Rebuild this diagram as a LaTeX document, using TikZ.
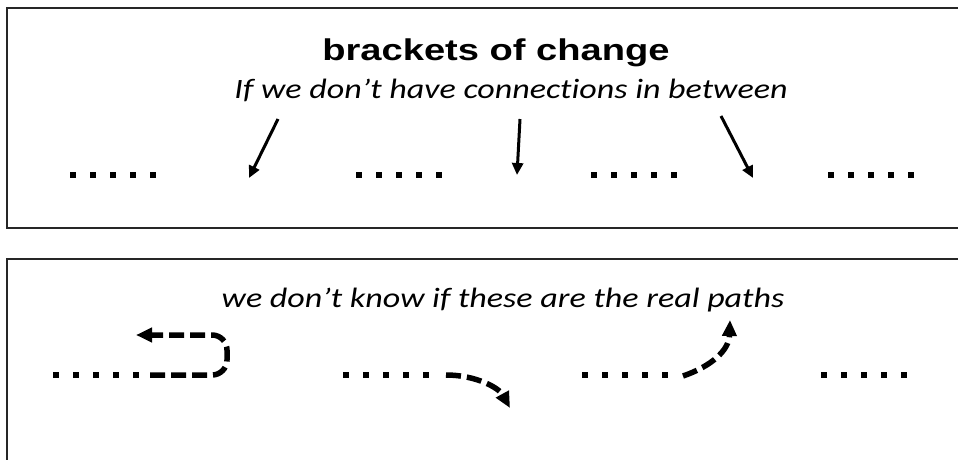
\documentclass[tikz,border=0pt]{standalone}
\usepackage{fontspec}
\setmainfont{Liberation Sans}
\newfontfamily\calib[Ligatures=NoCommon]{Carlito}
\usetikzlibrary{arrows.meta}
\begin{document}
\begin{tikzpicture}[x=1pt,y=-1pt,
  frame/.style={draw=black!85, line width=2.2pt},
  dotrow/.style={line width=6pt, dash pattern=on 6pt off 14pt},
  pointer/.style={line width=3pt, -{Triangle[length=12pt,width=11pt]}},
  guess/.style={line width=5.5pt, dash pattern=on 15pt off 6pt, -{Triangle[length=16pt,width=14pt]}},
  titletext/.style={font=\fontsize{30}{30}\selectfont\bfseries, anchor=base, inner sep=0pt},
  notetext/.style={font=\fontsize{28}{28}\selectfont\calib\itshape, anchor=base, inner sep=0pt}]
\useasboundingbox (0,0) rectangle (958,460);
\fill[white] (0,0) rectangle (958,460);
% frames
\draw[frame] (958,8) -- (7,8) -- (7,228) -- (958,228);
\draw[frame] (958,259) -- (7,259) -- (7,460);
% texts
\node[titletext] (title) at (496,61) {\scalebox{1.27}[1]{brackets of change}};
\node[notetext] (note1) at (511,98) {\scalebox{1.215}[1]{If we don’t have connections in between}};
\node[notetext] (note2) at (503,307) {\scalebox{1.215}[1]{we don’t know if these are the real paths}};
% top dot rows
\coordinate (a1) at (70,174.5);
\coordinate (a2) at (356,174.5);
\coordinate (a3) at (591,174.5);
\coordinate (a4) at (828,174.5);
\foreach \c in {a1,a2,a3,a4} \draw[dotrow] (\c) -- ++(86,0);
% top pointers
\coordinate (p1s) at (278,119); \coordinate (p1e) at (249,178);
\coordinate (p2s) at (520,119); \coordinate (p2e) at (517,175);
\coordinate (p3s) at (721,116); \coordinate (p3e) at (753,178);
\draw[pointer] (p1s) -- (p1e);
\draw[pointer] (p2s) -- (p2e);
\draw[pointer] (p3s) -- (p3e);
% bottom dot rows
\coordinate (b1) at (53,375);
\coordinate (b2) at (343,375);
\coordinate (b3) at (582,375);
\coordinate (b4) at (821,375);
\foreach \c in {b1,b2,b3,b4} \draw[dotrow] (\c) -- ++(86,0);
% guessed paths
\coordinate (g1s) at (150,375); \coordinate (g1e) at (136,335);
\coordinate (g2s) at (446,375); \coordinate (g2e) at (510,408);
\coordinate (g3s) at (683,376); \coordinate (g3e) at (730,320);
\draw[guess, rounded corners=15pt] (g1s) -- (227,375) -- (227,335) -- (g1e);
\draw[guess] (g2s) .. controls (476,375) and (499,388) .. (g2e);
\draw[guess] (g3s) .. controls (712,366) and (729,350) .. (g3e);
\end{tikzpicture}
\end{document}
